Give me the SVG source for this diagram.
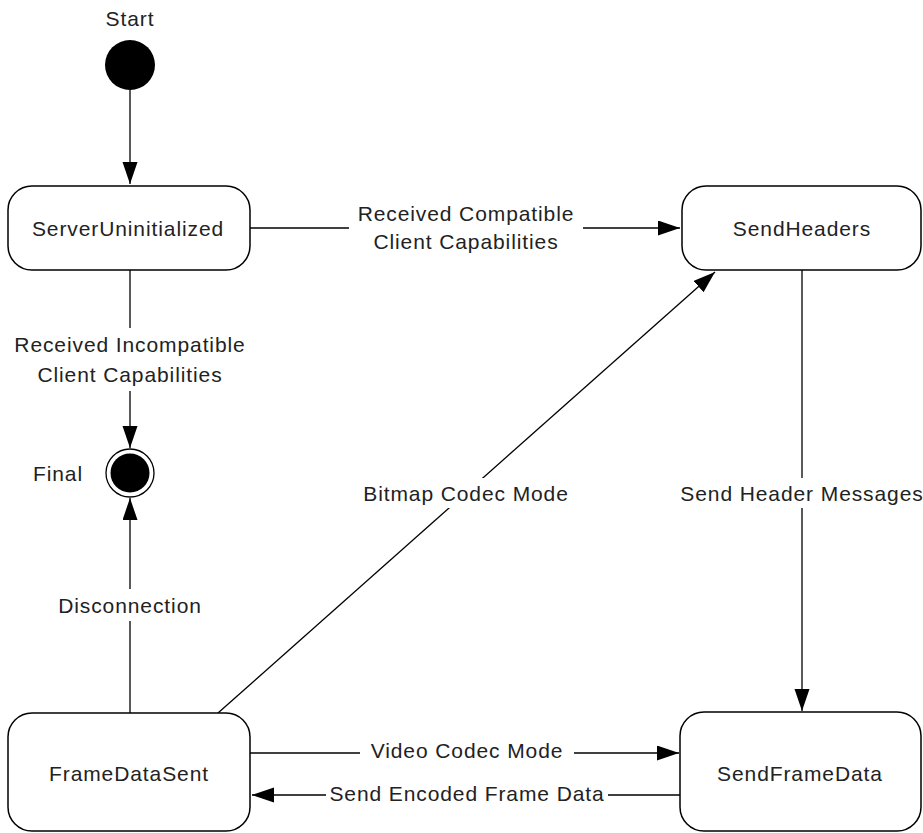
<svg xmlns="http://www.w3.org/2000/svg" width="923" height="833" viewBox="0 0 923 833">
<style>
.box{fill:#fff;stroke:#000;stroke-width:1.5}
.ln{fill:none;stroke:#000;stroke-width:1.3}
.t{font-family:"Liberation Sans",Arial,sans-serif;font-size:21px;letter-spacing:0.9px;fill:#222;text-anchor:middle;dominant-baseline:central}
.bg{fill:#fff}
</style>
<defs>
<marker id="ah" markerUnits="userSpaceOnUse" markerWidth="24" markerHeight="16" refX="22" refY="7.5" orient="auto">
<path d="M0,0 L22,7.5 L0,15 z" fill="#000"/>
</marker>
</defs>
<rect width="923" height="833" fill="#fff"/>
<g id="connectors">
<line class="ln" x1="130" y1="90" x2="130" y2="184" marker-end="url(#ah)"/>
<line class="ln" x1="250" y1="228" x2="680" y2="228" marker-end="url(#ah)"/>
<line class="ln" x1="130" y1="270" x2="130" y2="448" marker-end="url(#ah)"/>
<line class="ln" x1="130" y1="713" x2="130" y2="498" marker-end="url(#ah)"/>
<line class="ln" x1="218" y1="713" x2="715" y2="272" marker-end="url(#ah)"/>
<line class="ln" x1="802" y1="270" x2="802" y2="711" marker-end="url(#ah)"/>
<line class="ln" x1="250" y1="753" x2="679" y2="753" marker-end="url(#ah)"/>
<line class="ln" x1="680" y1="795" x2="252" y2="795" marker-end="url(#ah)"/>
<g id="lbl-compatible">
<rect class="bg" x="349" y="198" width="234" height="58"/>
<text class="t" x="466" y="213">Received Compatible</text>
<text class="t" x="466" y="241">Client Capabilities</text>
</g>
<g id="lbl-incompatible">
<rect class="bg" x="6" y="328" width="248" height="63"/>
<text class="t" x="130" y="344">Received Incompatible</text>
<text class="t" x="130" y="374">Client Capabilities</text>
</g>
<g id="lbl-disconnection">
<rect class="bg" x="52" y="589" width="156" height="32"/>
<text class="t" x="130" y="605">Disconnection</text>
</g>
<g id="lbl-bitmap">
<rect class="bg" x="352" y="478" width="228" height="30"/>
<text class="t" x="466" y="493">Bitmap Codec Mode</text>
</g>
<g id="lbl-headers">
<rect class="bg" x="680" y="478" width="242" height="30"/>
<text class="t" x="802" y="493">Send Header Messages</text>
</g>
<g id="lbl-video">
<rect class="bg" x="360" y="738" width="214" height="28"/>
<text class="t" x="467" y="750">Video Codec Mode</text>
</g>
<g id="lbl-encoded">
<rect class="bg" x="326" y="780" width="282" height="28"/>
<text class="t" x="467" y="793">Send Encoded Frame Data</text>
</g>
</g>
<g id="start">
<circle cx="130" cy="65" r="25" fill="#000"/>
<text class="t" x="130" y="18">Start</text>
</g>
<g id="final">
<circle cx="130" cy="473" r="24" fill="#fff" stroke="#000" stroke-width="1.3"/>
<circle cx="130" cy="473" r="19.5" fill="#000"/>
<text class="t" x="58" y="473">Final</text>
</g>
<g id="ServerUninitialized">
<rect class="box" x="8" y="186" width="242" height="84" rx="24"/>
<text class="t" x="128" y="228">ServerUninitialized</text>
</g>
<g id="SendHeaders">
<rect class="box" x="682" y="186" width="239" height="84" rx="24"/>
<text class="t" x="802" y="228">SendHeaders</text>
</g>
<g id="FrameDataSent">
<rect class="box" x="8" y="713" width="242" height="118" rx="24"/>
<text class="t" x="129" y="773">FrameDataSent</text>
</g>
<g id="SendFrameData">
<rect class="box" x="680" y="712" width="241" height="119" rx="24"/>
<text class="t" x="800" y="773">SendFrameData</text>
</g>
</svg>
